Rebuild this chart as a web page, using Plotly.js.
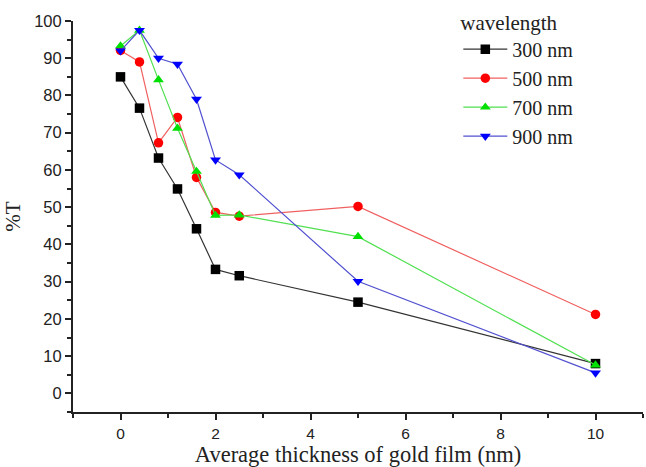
<!DOCTYPE html>
<html><head><meta charset="utf-8">
<script src="https://cdn.plot.ly/plotly-3.0.1.min.js"></script>
<style>html,body{margin:0;padding:0;background:#fff}#chart{width:646px;height:467px}</style>
</head><body><div id="chart"></div>
<script>
const thickness = [0, 0.4, 0.8, 1.2, 1.6, 2, 2.5, 5, 10];
const t300 = [85, 76.6, 63.2, 54.9, 44.2, 33.3, 31.6, 24.5, 8.0];
const t500 = [92.1, 89.0, 67.3, 74.1, 58.0, 48.6, 47.6, 50.2, 21.2];
const t700 = [93.3, 97.5, 84.2, 71.2, 59.6, 47.8, 47.9, 42.1, 7.6];
const t900 = [92.0, 97.5, 90.0, 88.4, 79.0, 62.7, 58.7, 30.1, 5.5];
const seriesNames = ["300 nm", "500 nm", "700 nm", "900 nm"];
const lineColors = ["#333333", "#f06060", "#50e050", "#5050d0"];
const markerColors = ["#000000", "#ff0000", "#00e000", "#0000ff"];
const symbols = ["square", "circle", "triangle-up", "triangle-down"];
const values = [t300, t500, t700, t900];

const traces = values.map((v, i) => ({
  x: thickness, y: v, name: seriesNames[i], type: "scatter", mode: "lines+markers",
  line: {color: lineColors[i], width: 1.2},
  marker: {symbol: symbols[i], size: 9.5, color: markerColors[i]}
}));

const serif = "Liberation Serif, Times New Roman, serif";
const sans = "Liberation Sans, Arial, sans-serif";
const layout = {
  width: 646, height: 467,
  margin: {l: 73, r: 3, t: 20, b: 55},
  paper_bgcolor: "#fff", plot_bgcolor: "#fff",
  showlegend: true,
  legend: {
    x: 0.676, y: 1.045, xanchor: "left", yanchor: "top",
    bgcolor: "rgba(0,0,0,0)", borderwidth: 0,
    font: {family: serif, size: 20, color: "#222"},
    title: {text: "wavelength", font: {family: serif, size: 21, color: "#222"}},
    itemwidth: 44,
    tracegroupgap: 0
  },
  xaxis: {
    range: [-1, 11], tickvals: [0, 2, 4, 6, 8, 10], ticks: "outside", ticklen: 6, tickwidth: 2, tickcolor: "#222",
    minor: {tickvals: [-1, 1, 3, 5, 7, 9, 11], ticks: "outside", ticklen: 4, tickwidth: 2, tickcolor: "#222"},
    showline: true, linecolor: "#222", linewidth: 2, showgrid: false, zeroline: false,
    tickfont: {family: sans, size: 15.5, color: "#222"},
    title: {text: "Average thickness of gold film (nm)", font: {family: serif, size: 22.5, color: "#222"}, standoff: 5}
  },
  yaxis: {
    range: [-5, 100], tickvals: [0,10,20,30,40,50,60,70,80,90,100], ticks: "outside", ticklen: 6, tickwidth: 2, tickcolor: "#222",
    minor: {tickvals: [-5,5,15,25,35,45,55,65,75,85,95], ticks: "outside", ticklen: 4, tickwidth: 2, tickcolor: "#222"},
    showline: true, linecolor: "#222", linewidth: 2, showgrid: false, zeroline: false,
    tickfont: {family: sans, size: 16.5, color: "#222"},
    title: {text: "%T", font: {family: serif, size: 21, color: "#222"}, standoff: 8}
  }
};
Plotly.newPlot("chart", traces, layout, {displayModeBar: false, staticPlot: true});
</script></body></html>
